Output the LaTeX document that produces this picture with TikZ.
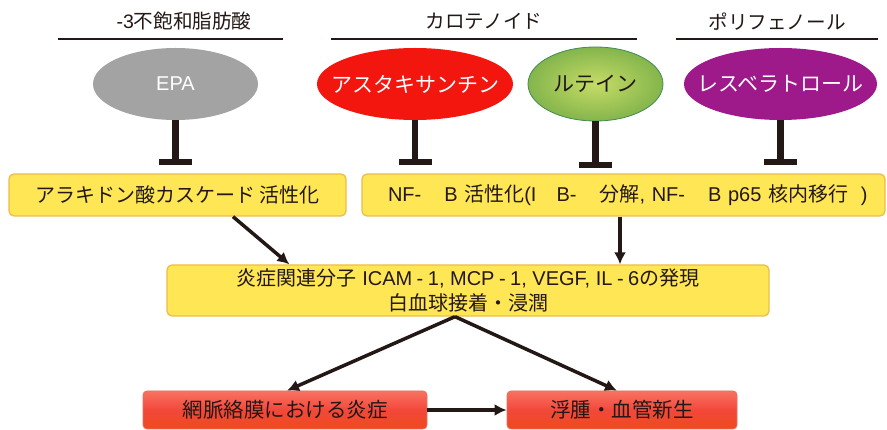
\documentclass[tikz,border=0pt]{standalone}
\usepackage{fontspec}
\setmainfont{Liberation Sans}
\newfontfamily\jpfont{Noto Sans CJK JP}
\usetikzlibrary{shapes.geometric,arrows.meta,calc}
\definecolor{ink}{HTML}{231815}
\definecolor{epagray}{HTML}{A3A3A3}
\definecolor{astred}{HTML}{F2160F}
\definecolor{lutin}{HTML}{C6DC66}
\definecolor{lutout}{HTML}{84B54C}
\definecolor{lutbord}{HTML}{3F8C52}
\definecolor{respurp}{HTML}{9E1A8A}
\definecolor{yfill}{HTML}{FFE655}
\definecolor{ybord}{HTML}{EDBE48}
\definecolor{rtop}{HTML}{F87262}
\definecolor{rmid}{HTML}{F2483A}
\definecolor{rbot}{HTML}{EE4A1E}
\definecolor{rbord}{HTML}{E8705E}
\def\jsz{20}
\newcommand\J[1]{{\jpfont\fontsize{\jsz}{25}\selectfont #1}}
\newcommand\Z[1]{\makebox[0pt]{#1}}
\tikzset{
  basefont/.style={font=\fontsize{20}{25}\selectfont},
  hdr/.style={font=\def\jsz{19.6}\fontsize{19.5}{25}\selectfont, text=ink, inner sep=0pt},
  hline/.style={draw=ink, line width=1.8pt},
  oval/.style={ellipse, inner sep=0pt, font=\def\jsz{21}\fontsize{20}{24}\selectfont},
  ybox/.style={rectangle, rounded corners=5pt, draw=ybord, fill=yfill, line width=1.3pt, text=ink, basefont, inner sep=0pt, align=center},
  rbox/.style={rectangle, rounded corners=4pt, draw=rbord, line width=0.8pt, top color=rtop, bottom color=rbot, middle color=rmid, text=ink, font=\def\jsz{20.5}\fontsize{19.5}{25}\selectfont, inner sep=0pt},
  inh/.style={draw=ink, line width=6.5pt, -{Bar[width=33pt]}, shorten >=8pt},
  arr/.style={draw=ink, line width=3.5pt, -{Latex[length=12pt,width=12pt]}},
}
\begin{document}
\begin{tikzpicture}[x=1pt,y=-1pt]
\useasboundingbox[fill=white] (0,0) rectangle (887,430);

% headers
\node[hdr] (h1) at (184,21.5) {-3\J{不飽和脂肪酸}};
\node[hdr] (h2) at (484,21.5) {\J{カロテノイド}};
\node[hdr] (h3) at (777,21.5) {\J{ポリフェノール}};
\draw[hline] (58,39) -- (283,39);
\draw[hline] (331,39) -- (637,39);
\draw[hline] (676,39) -- (878,39);

% ovals
\node[oval, fill=epagray, text=white, minimum width=165pt, minimum height=72pt] (epa) at (175.5,84) {\Z{EPA}};
\node[oval, fill=astred, text=white, minimum width=196pt, minimum height=72pt] (ast) at (415,84) {\Z{\J{アスタキサンチン}}};
\node[oval, inner color=lutin, outer color=lutout, draw=lutbord, line width=0.8pt, text=ink, minimum width=135pt, minimum height=74pt] (lut) at (595.5,84) {\Z{\J{ルテイン}}};
\node[oval, fill=respurp, text=white, minimum width=193pt, minimum height=72pt] (res) at (780.5,84) {\Z{\J{レスベラトロール}}};

% yellow boxes
\node[ybox, minimum width=337pt, minimum height=42pt] (box1) at (177.5,195) {\J{アラキドン酸カスケード 活性化}};
\node[ybox, minimum width=523pt, minimum height=42pt, text width=523pt, align=left] (box2) at (623.5,195)
  {\hspace*{26pt}NF-\hspace{23pt}B \J{活性化}(I\hspace{20pt}B-\hspace{23pt}\J{分解}, NF-\hspace{23pt}B p65 \J{核内移行}\hspace{6pt} )};
\node[ybox, minimum width=602pt, minimum height=51pt] (mid) at (468,290.5)
  {\J{炎症関連分子} ICAM\hspace{4.5pt}-\hspace{4.5pt}1, MCP\hspace{4.5pt}-\hspace{4.5pt}1, VEGF, IL\hspace{4.5pt}-\hspace{4.5pt}6\J{の発現}\\[0pt]\J{白血球接着・浸潤}};

% red boxes
\node[rbox, minimum width=284pt, minimum height=38pt] (red1) at (285,410) {\J{網脈絡膜における炎症}};
\node[rbox, minimum width=230pt, minimum height=38pt] (red2) at (622,410) {\J{浮腫・血管新生}};

% inhibition bars
\draw[inh] (epa.south) -- (epa.south |- box1.north);
\draw[inh] (ast.south) -- (ast.south |- box2.north);
\draw[inh, shorten >=5pt] (lut.south) -- (lut.south |- box2.north);
\draw[inh] (res.south) -- (res.south |- box2.north);

% arrows
\coordinate (b1out) at ($(box1.south west)!0.664!(box1.south east)$);
\coordinate (midin) at ($(mid.north west)+(123,0)$);
\draw[arr] (b1out) -- (midin);
\coordinate (b2out) at ($(box2.south)+(-3.5,0)$);
\draw[arr] (b2out) -- (b2out |- mid.north);
\coordinate (apex) at ($(mid.south)+(-13,0)$);
\draw[arr] (apex) -- ($(red1.north)+(2,0)$);
\draw[arr] (apex) -- ($(red2.north)+(-5,0)$);
\draw[arr] (red1.east) -- (red2.west);
\end{tikzpicture}
\end{document}
